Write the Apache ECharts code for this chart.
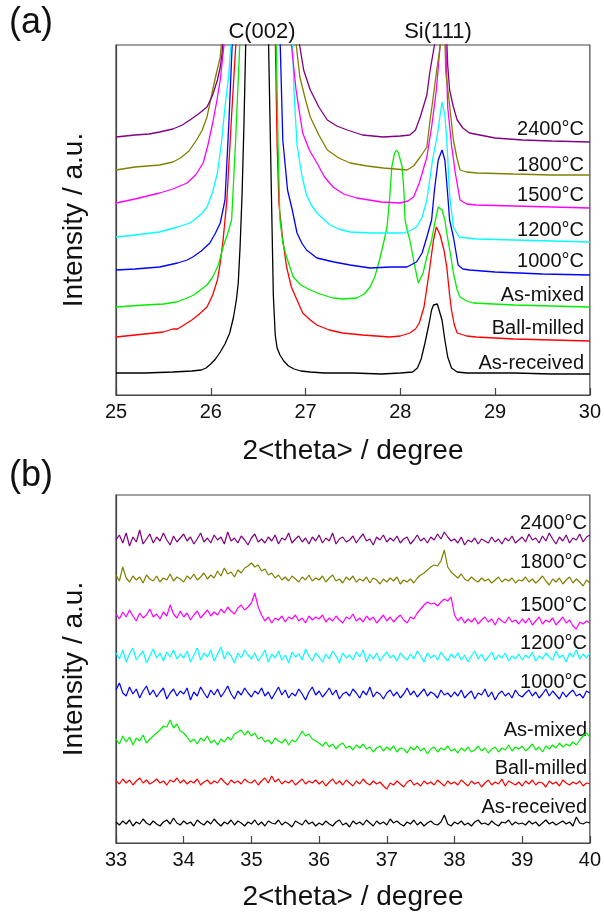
<!DOCTYPE html>
<html><head><meta charset="utf-8">
<script src="https://cdn.jsdelivr.net/npm/echarts@6/dist/echarts.min.js"></script>
<style>html,body{margin:0;padding:0;background:#fff}#c{width:604px;height:914px}</style>
</head><body><div id="c"></div>
<script>
// ---------- Panel (a): 2theta 25-30, [2theta, intensity (a.u., offset)] ----------
const aAsReceived = [[25.0,22],[25.3,22],[25.6,23],[25.8,24],[25.9,25],[25.95,27],[26.0,31],[26.05,36],[26.1,43],[26.15,51],[26.2,62],[26.24,78],[26.27,95],[26.29,112],[26.31,150],[26.33,200],[26.35,270],[26.38,400],[26.5,2500],[26.6,400],[26.62,300],[26.64,200],[26.66,100],[26.68,60],[26.7,47],[26.73,40],[26.77,34],[26.82,29],[26.88,26],[26.95,24],[27.05,23],[27.2,22],[27.5,22],[27.8,21],[28.0,22],[28.13,23],[28.18,27],[28.22,36],[28.26,52],[28.3,70],[28.33,85],[28.35,90],[28.37,89],[28.39,91],[28.41,89],[28.44,75],[28.47,55],[28.5,38],[28.54,27],[28.6,23],[28.7,22],[29.2,22],[29.6,21],[30.0,21]];
const aBallMilled = [[25.0,58],[25.2,60],[25.4,62],[25.5,63],[25.6,66],[25.62,68],[25.65,66],[25.7,69],[25.8,75],[25.88,81],[25.96,88],[26.02,100],[26.07,115],[26.1,132],[26.13,155],[26.17,195],[26.22,280],[26.27,360],[26.32,700],[26.5,2500],[26.66,700],[26.68,360],[26.7,250],[26.72,190],[26.76,155],[26.8,128],[26.85,108],[26.91,95],[26.97,82],[27.05,75],[27.12,70],[27.25,65],[27.39,62],[27.6,60],[27.89,58],[28.0,59],[28.1,62],[28.16,66],[28.2,72],[28.25,88],[28.3,120],[28.35,155],[28.38,168],[28.42,160],[28.46,145],[28.49,128],[28.52,100],[28.54,85],[28.57,70],[28.6,62],[28.7,59],[28.8,58],[29.2,56],[29.6,55],[30.0,54]];
const aAsMixed = [[25.0,88],[25.3,90],[25.5,91],[25.64,93],[25.75,97],[25.82,100],[25.89,105],[25.96,110],[26.02,118],[26.08,130],[26.13,148],[26.18,162],[26.22,175],[26.26,250],[26.31,360],[26.35,700],[26.5,2500],[26.66,700],[26.69,360],[26.71,250],[26.73,175],[26.76,152],[26.8,138],[26.87,118],[26.95,110],[27.05,105],[27.15,101],[27.29,97],[27.4,96],[27.54,97],[27.62,101],[27.68,108],[27.73,118],[27.78,135],[27.83,155],[27.86,168],[27.89,200],[27.91,228],[27.94,242],[27.96,245],[27.98,242],[28.02,228],[28.04,200],[28.05,175],[28.08,162],[28.10,155],[28.15,130],[28.19,112],[28.21,113],[28.24,122],[28.28,138],[28.33,155],[28.37,175],[28.40,188],[28.44,185],[28.47,175],[28.49,162],[28.53,140],[28.56,122],[28.6,105],[28.63,98],[28.7,94],[28.77,92],[29.2,90],[29.6,89],[30.0,88]];
const a1000 = [[25.0,125],[25.2,126],[25.46,128],[25.65,132],[25.75,135],[25.81,138],[25.9,144],[25.99,152],[26.05,162],[26.1,172],[26.15,195],[26.19,270],[26.23,360],[26.3,700],[26.5,2500],[26.7,700],[26.73,360],[26.76,255],[26.81,205],[26.86,185],[26.91,162],[26.96,152],[27.01,145],[27.12,137],[27.3,133],[27.47,130],[27.68,127],[27.9,128],[28.07,128],[28.17,133],[28.23,142],[28.28,158],[28.33,175],[28.36,205],[28.4,235],[28.44,245],[28.47,235],[28.5,200],[28.52,175],[28.56,158],[28.61,130],[28.66,126],[28.73,125],[29.0,123],[29.5,121],[30.0,120]];
const a1200 = [[25.0,158],[25.2,160],[25.46,163],[25.65,168],[25.78,172],[25.85,177],[25.91,182],[25.96,188],[26.02,203],[26.07,222],[26.11,250],[26.15,288],[26.19,320],[26.22,360],[26.28,800],[26.5,2500],[26.8,800],[26.86,360],[26.88,300],[26.91,250],[26.96,220],[27.01,200],[27.06,190],[27.12,182],[27.2,175],[27.26,170],[27.35,166],[27.47,163],[27.7,162],[28.03,162],[28.12,165],[28.17,168],[28.23,178],[28.28,195],[28.34,235],[28.39,260],[28.44,293],[28.47,280],[28.49,255],[28.52,200],[28.56,168],[28.62,158],[28.8,156],[29.2,155],[29.6,154],[30.0,153]];
const a1500 = [[25.0,192],[25.2,196],[25.46,202],[25.6,206],[25.75,212],[25.84,220],[25.92,232],[25.97,250],[26.02,272],[26.06,292],[26.1,315],[26.15,360],[26.25,900],[26.5,2500],[26.75,900],[26.84,360],[26.9,305],[26.94,280],[26.97,262],[27.04,245],[27.12,232],[27.2,218],[27.29,208],[27.4,201],[27.54,197],[27.8,193],[28.0,192],[28.08,194],[28.14,198],[28.2,212],[28.28,238],[28.33,268],[28.38,305],[28.42,350],[28.45,420],[28.48,350],[28.5,288],[28.54,250],[28.58,222],[28.63,195],[28.7,191],[28.8,190],[29.2,189],[29.6,188],[30.0,187]];
const a1800 = [[25.0,225],[25.2,228],[25.46,230],[25.6,233],[25.68,237],[25.77,244],[25.85,255],[25.91,265],[25.96,278],[26.02,305],[26.06,322],[26.1,338],[26.12,360],[26.25,900],[26.5,2500],[26.8,900],[26.89,360],[26.94,318],[27.0,295],[27.05,278],[27.14,260],[27.23,245],[27.35,237],[27.47,232],[27.65,229],[27.82,227],[28.07,225],[28.14,229],[28.21,238],[28.28,248],[28.31,272],[28.35,300],[28.38,322],[28.43,355],[28.45,420],[28.48,322],[28.52,290],[28.56,255],[28.6,236],[28.63,225],[28.7,223],[28.81,222],[29.2,221],[29.6,220],[30.0,220]];
const a2400 = [[25.0,258],[25.2,260],[25.35,261],[25.46,263],[25.6,266],[25.7,270],[25.78,275],[25.87,281],[25.96,288],[26.02,300],[26.07,315],[26.1,328],[26.12,342],[26.13,360],[26.25,900],[26.5,2500],[26.85,900],[26.92,360],[26.98,325],[27.05,305],[27.14,288],[27.23,275],[27.33,269],[27.44,265],[27.6,260],[27.82,258],[28.0,259],[28.1,260],[28.16,265],[28.21,278],[28.28,300],[28.31,322],[28.36,350],[28.45,450],[28.5,330],[28.52,305],[28.56,288],[28.6,275],[28.66,267],[28.73,262],[29.0,257],[29.29,255],[29.6,254],[30.0,253]];

// ---------- Panel (b): 2theta 33-40 ----------
const thetaB = [33.00,33.05,33.10,33.15,33.20,33.25,33.30,33.35,33.40,33.45,33.50,33.55,33.60,33.65,33.70,33.75,33.80,33.85,33.90,33.95,
34.00,34.05,34.10,34.15,34.20,34.25,34.30,34.35,34.40,34.45,34.50,34.55,34.60,34.65,34.70,34.75,34.80,34.85,34.90,34.95,
35.00,35.05,35.10,35.15,35.20,35.25,35.30,35.35,35.40,35.45,35.50,35.55,35.60,35.65,35.70,35.75,35.80,35.85,35.90,35.95,
36.00,36.05,36.10,36.15,36.20,36.25,36.30,36.35,36.40,36.45,36.50,36.55,36.60,36.65,36.70,36.75,36.80,36.85,36.90,36.95,
37.00,37.05,37.10,37.15,37.20,37.25,37.30,37.35,37.40,37.45,37.50,37.55,37.60,37.65,37.70,37.75,37.80,37.85,37.90,37.95,
38.00,38.05,38.10,38.15,38.20,38.25,38.30,38.35,38.40,38.45,38.50,38.55,38.60,38.65,38.70,38.75,38.80,38.85,38.90,38.95,
39.00,39.05,39.10,39.15,39.20,39.25,39.30,39.35,39.40,39.45,39.50,39.55,39.60,39.65,39.70,39.75,39.80,39.85,39.90,39.95,
40.00];
const b2400 = [303,308,300,310,297,306,301,313,299,304,309,300,306,302,310,303,298,307,301,305,
309,302,306,299,304,310,301,305,300,308,303,306,299,311,302,305,300,307,303,298,
305,309,301,304,300,306,302,308,299,305,303,310,300,304,307,301,305,299,306,302,
308,300,305,302,310,299,304,306,301,303,307,300,305,309,302,304,298,306,303,308,
301,305,302,307,300,304,306,299,303,308,302,305,300,306,303,309,304,311,306,302,
304,300,306,298,303,301,305,299,304,302,300,306,301,304,299,305,302,307,300,303,
306,301,309,303,305,300,307,302,310,304,299,306,302,308,300,305,303,309,301,306,
308];
const b1800 = [268,262,276,265,261,267,263,266,260,268,264,262,267,261,265,263,269,262,266,264,
261,267,264,269,263,266,270,264,268,265,272,267,275,269,271,266,273,270,275,277,
280,276,278,272,274,268,270,265,268,263,266,262,267,264,261,266,263,268,262,265,
263,267,261,265,268,262,264,260,266,263,267,261,264,262,266,260,265,263,259,264,
261,265,262,266,259,263,261,264,260,265,268,270,273,276,278,277,282,293,276,271,
268,265,269,264,262,266,263,261,265,262,264,260,263,266,261,264,262,265,260,263,
262,266,261,264,260,263,267,262,258,264,261,265,259,263,266,260,264,261,257,263,
260];
const b1500 = [229,224,231,226,233,227,222,230,225,228,234,226,229,224,231,227,238,229,225,232,
226,230,223,228,232,225,229,233,227,231,228,234,230,236,232,229,235,238,233,236,
240,250,236,228,222,226,220,225,223,227,221,226,224,228,222,225,220,227,223,226,
224,228,221,225,222,227,223,220,226,224,229,222,225,221,227,223,226,220,224,228,
222,226,221,225,228,223,220,226,224,230,234,238,241,239,240,237,241,244,242,246,
228,222,226,220,224,221,225,219,223,226,221,224,218,225,222,220,226,221,223,219,
224,220,225,218,222,226,219,223,221,225,218,222,226,220,223,217,214,221,219,222,
220];
const b1200 = [190,184,193,181,189,195,183,188,192,180,187,194,185,190,182,191,186,193,184,189,
185,192,181,188,195,183,190,186,193,182,189,196,184,191,187,180,190,185,193,188,
184,190,182,187,193,181,189,185,192,183,188,180,191,186,189,183,194,187,182,190,
186,181,189,184,192,187,180,190,185,188,183,191,186,193,181,189,184,190,182,187,
191,185,188,182,190,186,183,189,184,192,187,181,190,185,188,183,191,186,182,189,
185,190,183,188,181,187,192,184,189,182,186,191,183,188,185,190,182,187,184,189,
183,188,185,191,182,187,184,190,186,183,192,185,188,181,190,186,193,184,189,185,
190];
const b1000 = [153,160,150,147,156,149,154,145,152,157,148,153,146,151,155,144,150,154,147,152,
149,155,143,151,147,156,150,145,153,148,154,146,151,157,149,144,152,148,155,150,
146,152,149,155,147,151,144,150,156,148,153,145,150,147,154,149,143,151,156,148,
152,146,150,155,148,153,144,149,151,147,154,150,145,152,148,156,146,151,149,144,
150,153,147,151,145,149,155,148,152,146,150,154,147,151,149,145,153,148,150,146,
151,147,153,145,149,152,144,150,148,154,146,151,143,149,152,147,150,145,153,148,
146,150,153,147,151,145,149,154,147,152,148,144,151,146,150,153,147,149,145,152,
150];
const bAsMixed = [104,99,107,101,106,98,105,102,108,100,104,107,110,113,117,116,123,115,119,112,
110,106,101,104,99,105,102,107,100,103,98,104,101,106,103,109,111,113,108,112,
107,110,104,106,101,103,99,105,102,100,104,98,103,101,106,112,107,109,104,102,
100,97,101,96,99,94,98,100,95,97,93,98,95,99,94,96,91,95,97,92,
96,93,97,91,95,94,90,96,93,97,92,95,89,94,96,91,95,93,97,92,
94,90,95,92,96,91,93,97,92,95,90,94,96,91,95,93,98,92,96,94,
97,92,95,99,93,96,91,97,94,98,95,100,96,99,97,101,98,103,107,110,
106];
const bBallMilled = [62,59,64,60,63,58,62,65,60,63,59,61,64,60,62,58,63,61,65,60,
63,59,62,60,64,58,61,63,59,62,60,65,61,58,63,60,62,59,64,61,
60,63,58,62,65,60,67,61,64,59,62,60,63,58,61,64,59,62,60,63,
59,62,57,61,64,59,62,58,63,60,57,62,59,64,60,58,62,59,61,57,
54,60,58,62,59,56,61,63,58,60,57,62,59,61,58,63,60,57,62,59,
61,58,63,60,57,62,59,61,56,60,63,58,61,59,64,57,62,60,58,61,
57,62,59,63,58,61,60,56,62,59,61,57,63,60,58,61,59,62,57,60,
59];
const bAsReceived = [21,18,22,19,23,17,21,19,24,20,18,22,19,17,21,23,19,25,20,18,
22,19,21,17,23,20,18,22,19,24,20,17,21,19,23,18,22,20,17,21,
19,23,18,21,17,22,20,19,23,18,21,19,16,22,20,18,23,19,21,17,
20,18,22,19,17,21,23,18,20,16,22,19,21,18,23,20,17,22,19,21,
18,24,20,22,19,17,21,19,23,18,21,17,20,22,19,18,21,28,19,17,
21,19,22,18,20,17,21,23,19,20,18,22,19,17,21,20,23,18,21,19,
20,18,22,19,21,17,20,23,19,21,18,20,22,19,21,17,26,20,19,21,
20];

const sampleNames = ['As-received','Ball-milled','As-mixed','1000°C','1200°C','1500°C','1800°C','2400°C'];
const sampleColors = ['#000000','#ff0000','#00ee00','#0000ff','#00ffff','#ff00ff','#808000','#800080'];
const xTicksA = [25, 30, 1];
const xTicksB = [33, 40, 1];
const xTitle = '2<theta> / degree';
const yTitle = 'Intensity / a.u.';

const aSeries = [aAsReceived, aBallMilled, aAsMixed, a1000, a1200, a1500, a1800, a2400];
const bSeries = [bAsReceived, bBallMilled, bAsMixed, b1000, b1200, b1500, b1800, b2400];

const FONT = '"Liberation Sans", Arial, sans-serif';
const chart = echarts.init(document.getElementById('c'), null, {renderer: 'canvas'});

function xAx(gi, t, gap) {
  return {
    gridIndex: gi, type: 'value', min: t[0], max: t[1], interval: t[2],
    name: xTitle, nameLocation: 'middle', nameGap: gap,
    nameTextStyle: {fontFamily: FONT, fontSize: 28, color: '#111'},
    axisLine: {show: true, lineStyle: {color: '#444', width: 1.2}},
    axisTick: {show: true, inside: true, length: 7, lineStyle: {color: '#444', width: 1.2}},
    axisLabel: {fontFamily: FONT, fontSize: 20, color: '#111', margin: 7},
    splitLine: {show: false}
  };
}
function yAx(gi, max) {
  return {
    gridIndex: gi, type: 'value', min: 0, max: max,
    name: yTitle, nameLocation: 'middle', nameGap: 28, nameRotate: 90,
    nameTextStyle: {fontFamily: FONT, fontSize: 28, color: '#111'},
    axisLine: {show: true, lineStyle: {color: '#444', width: 1.2}},
    axisTick: {show: false}, axisLabel: {show: false}, splitLine: {show: false}
  };
}

const series = [];
aSeries.forEach((d, i) => series.push({
  type: 'line', xAxisIndex: 0, yAxisIndex: 0, data: d, showSymbol: false, symbol: 'none',
  clip: true, lineStyle: {color: sampleColors[i], width: 1.3}, z: 2 + i
}));
bSeries.forEach((v, i) => series.push({
  type: 'line', xAxisIndex: 1, yAxisIndex: 1, data: thetaB.map((x, k) => [x, v[k]]),
  showSymbol: false, symbol: 'none', clip: true,
  lineStyle: {color: sampleColors[i], width: 1.2}, z: 2 + i
}));

const labelYA = [363, 328, 295, 261, 230, 195, 165, 129];
const labelYB = [807, 768, 730, 682, 643, 605, 562, 523];
const graphics = [];
sampleNames.forEach((n, i) => {
  graphics.push({type: 'text', x: 584, y: labelYA[i], style: {text: n, font: '20px ' + FONT, fill: '#111', textAlign: 'right', textVerticalAlign: 'middle'}});
  graphics.push({type: 'text', x: 587, y: labelYB[i], style: {text: n, font: '20px ' + FONT, fill: '#111', textAlign: 'right', textVerticalAlign: 'middle'}});
});
graphics.push({type: 'text', x: 262, y: 32, style: {text: 'C(002)', font: '22px ' + FONT, fill: '#111', textAlign: 'center', textVerticalAlign: 'middle'}});
graphics.push({type: 'text', x: 438, y: 32, style: {text: 'Si(111)', font: '22px ' + FONT, fill: '#111', textAlign: 'center', textVerticalAlign: 'middle'}});
graphics.push({type: 'text', x: 31, y: 23, style: {text: '(a)', font: '36px ' + FONT, fill: '#111', textAlign: 'center', textVerticalAlign: 'middle'}});
graphics.push({type: 'text', x: 31, y: 476, style: {text: '(b)', font: '36px ' + FONT, fill: '#111', textAlign: 'center', textVerticalAlign: 'middle'}});

chart.setOption({
  animation: false,
  backgroundColor: '#fff',
  grid: [
    {left: 116, top: 45, width: 474, height: 350, show: true, borderColor: '#444', borderWidth: 1.2},
    {left: 116, top: 495, width: 474, height: 348, show: true, borderColor: '#444', borderWidth: 1.2}
  ],
  xAxis: [xAx(0, xTicksA, 42), xAx(1, xTicksB, 40)],
  yAxis: [yAx(0, 350), yAx(1, 348)],
  series: series,
  graphic: graphics
});
</script></body></html>
